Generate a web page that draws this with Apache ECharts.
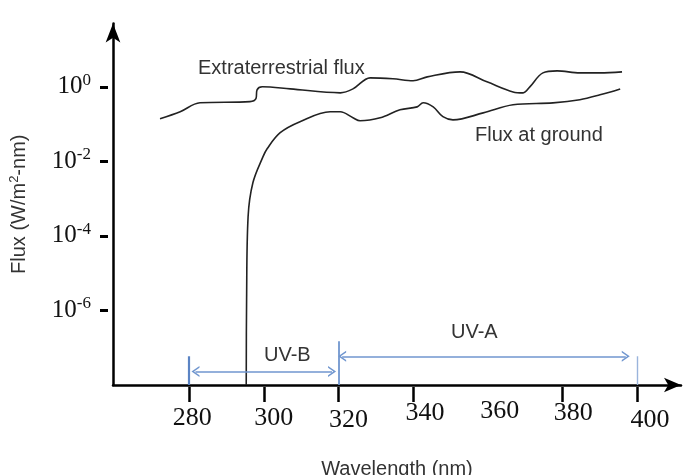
<!DOCTYPE html>
<html><head><meta charset="utf-8">
<script src="https://cdn.jsdelivr.net/npm/echarts@6/dist/echarts.min.js"></script>
<style>html,body{margin:0;padding:0;background:#fff}#c{width:688px;height:475px}</style>
</head><body><div id="c"></div>
<script>
// ---- data ----
const xTickLabels = [280, 300, 320, 340, 360, 380, 400];
const xTickMarks = [280, 300, 320, 340, 380, 400];
const yTickValues = [1, 1e-2, 1e-4, 1e-6];

const extraWl   = [272.2, 277.6, 282.9, 296.3, 297.9, 298.2, 299.6, 307.1, 320.5, 323.9, 328.5, 334.6, 340.0, 343.8, 352.6, 359.8, 366.8, 369.5, 371.3, 374.8, 378.6, 384.7, 390.1, 396.0];
const extraFlux = [0.139, 0.214, 0.373, 0.40, 0.48, 0.83, 1.0, 0.88, 0.69, 0.88, 1.74, 1.64, 1.45, 1.85, 2.52, 1.36, 0.73, 0.69, 1.0, 2.37, 2.68, 2.37, 2.37, 2.52];

const groundWl   = [295.3, 295.4, 295.8, 297.1, 299.8, 300.9, 304.4, 309.7, 317.8, 320.5, 323.9, 325.8, 331.2, 336.5, 341.1, 342.7, 345.4, 348.0, 350.7, 358.8, 366.8, 377.5, 384.7, 390.1, 395.5];
const groundFlux = [1e-8, 2e-6, 3.3e-4, 2.7e-3, 0.0134, 0.0219, 0.0588, 0.116, 0.214, 0.214, 0.148, 0.123, 0.148, 0.242, 0.29, 0.373, 0.29, 0.158, 0.13, 0.20, 0.33, 0.37, 0.45, 0.61, 0.88];

const uvBRange = [280, 320];
const uvARange = [320, 400];
const bandLabels = ['UV-B', 'UV-A'];
const curveLabels = ['Extraterrestrial flux', 'Flux at ground'];

// ---- styling ----
const blue = '#7096cf';
const sans = '"Liberation Sans", Arial, sans-serif';
const serif = '"Liberation Serif", "Times New Roman", serif';
const chevron = 'path://M0,10 L5,0 L10,10 L8.4,10 L5,3.2 L1.6,10 Z';
// per-label nudges (hand-drawn offsets): [dx, dy]
const xLabelNudge = {280:[3,7],300:[10,7],320:[10,9],340:[12,2],360:[12,0],380:[11,2],400:[13,9]};
const xRich = {};
xTickLabels.forEach(v => {
  const n = xLabelNudge[v] || [0,0];
  xRich['l' + v] = {fontFamily: serif, fontSize: 26, color: '#111', padding: [n[1], 0, 0, 2 * n[0]]};
});

const zip = (a, b) => a.map((v, i) => [v, b[i]]);

const chart = echarts.init(document.getElementById('c'), null, {renderer: 'canvas'});
chart.setOption({
  animation: false,
  backgroundColor: '#fff',
  grid: {left: 113, right: 7, top: 23.5, bottom: 90, containLabel: false, outerBoundsMode: 'none'},
  xAxis: {
    type: 'value', min: 259.6, max: 411.8,
    name: 'Wavelength (nm)', nameLocation: 'middle', nameGap: 74,
    nameTextStyle: {fontFamily: sans, fontSize: 20, color: '#333'},
    axisLine: {show: true, symbol: ['none', 'arrow'], symbolSize: [11, 17], lineStyle: {color: '#000', width: 2.5}},
    axisTick: {show: true, customValues: xTickMarks, length: 17, lineStyle: {color: '#000', width: 2.5, type: [0, 2, 15, 10]}},
    axisLabel: {show: true, customValues: xTickLabels, margin: 13,
      formatter: v => '{l' + v + '|' + v + '}', rich: xRich},
    splitLine: {show: false}
  },
  yAxis: {
    type: 'log', logBase: 10, min: 1e-8, max: 50,
    name: '{a|Flux (W/m}{s|2}{a|-nm)}', nameLocation: 'middle', nameGap: 83, nameRotate: 90,
    nameTextStyle: {rich: {a: {fontFamily: sans, fontSize: 20, color: '#333'}, s: {fontFamily: sans, fontSize: 13, color: '#333', padding: [0, 0, 9, 0]}}},
    axisLine: {show: true, symbol: ['none', 'arrow'], symbolSize: [11, 19], lineStyle: {color: '#000', width: 2.5}},
    axisTick: {show: true, customValues: yTickValues, length: 13, lineStyle: {color: '#000', width: 3, type: [0, 5, 8, 10]}},
    axisLabel: {show: true, customValues: yTickValues, margin: 22,
      formatter: v => '{b|10}{s|' + Math.round(Math.log10(v)) + '}',
      rich: {b: {fontFamily: serif, fontSize: 25, color: '#111'}, s: {fontFamily: serif, fontSize: 17, color: '#111', padding: [0, 0, 13, 0]}}},
    splitLine: {show: false}
  },
  series: [
    {
      name: curveLabels[0], type: 'line', data: zip(extraWl, extraFlux), smooth: 0.35,
      showSymbol: false, symbol: 'none', lineStyle: {color: '#222', width: 1.6}, silent: true
    },
    {
      name: curveLabels[1], type: 'line', data: zip(groundWl, groundFlux), smooth: 0.35,
      showSymbol: false, symbol: 'none', lineStyle: {color: '#222', width: 1.6}, silent: true,
      markLine: {
        silent: true, animation: false, label: {show: false}, emphasis: {disabled: true},
        symbol: [chevron, chevron], symbolSize: [11, 8],
        lineStyle: {color: blue, width: 1.6, type: 'solid'},
        data: [
          [{coord: [uvBRange[0] + 1.7, 2.3e-8]}, {coord: [uvBRange[1] - 1.7, 2.3e-8]}],
          [{coord: [uvARange[0] + 1.0, 5.9e-8]}, {coord: [uvARange[1] - 3.0, 5.9e-8]}],
          [{coord: [uvBRange[0], 1e-8], symbol: 'none', lineStyle: {width: 2.2, color: '#5b84c4'}}, {coord: [uvBRange[0], 5.9e-8], symbol: 'none'}],
          [{coord: [uvARange[0], 1e-8], symbol: 'none', lineStyle: {width: 1.8}}, {coord: [uvARange[0], 1.5e-7], symbol: 'none'}],
          [{coord: [uvARange[1], 1e-8], symbol: 'none', lineStyle: {width: 1.4, color: '#9ab4dc'}}, {coord: [uvARange[1], 5.9e-8], symbol: 'none'}]
        ]
      }
    }
  ],
  graphic: [
    {type: 'text', x: 198, y: 68, silent: true, style: {text: curveLabels[0], font: '20px ' + sans, fill: '#333', verticalAlign: 'middle'}},
    {type: 'text', x: 475, y: 135, silent: true, style: {text: curveLabels[1], font: '20px ' + sans, fill: '#333', verticalAlign: 'middle'}},
    {type: 'text', x: 264, y: 355, silent: true, style: {text: bandLabels[0], font: '20px ' + sans, fill: '#333', verticalAlign: 'middle'}},
    {type: 'text', x: 451, y: 332, silent: true, style: {text: bandLabels[1], font: '20px ' + sans, fill: '#333', verticalAlign: 'middle'}}
  ]
});
</script>
</body></html>
